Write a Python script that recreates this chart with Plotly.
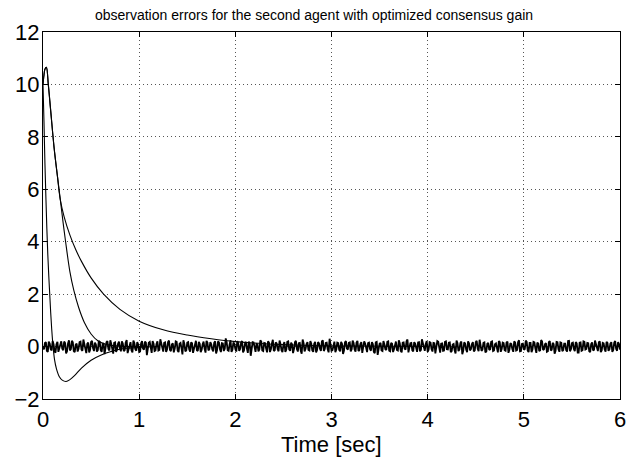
import numpy as np
import plotly.graph_objects as go

# ---------------- data ----------------
title_text = "observation errors for the second agent with optimized consensus gain"
x_label = "Time [sec]"
x_ticks = [0, 1, 2, 3, 4, 5, 6]
y_ticks = [-2, 0, 2, 4, 6, 8, 10, 12]

# noisy error, samples at even steps (0, 0.02, ... 6.00 s)
noise_t_a = np.round(np.arange(0, 6.0001, 0.02), 3)
noise_y_a = [
    0.00, 0.14, -0.16, 0.19, -0.10, 0.21, -0.18, 0.09, -0.20, 0.16, -0.08, 0.19, -0.26, 0.12, -0.15, 0.22, -0.17, 0.07, -0.19, 0.17,
    -0.12, 0.27, -0.15, 0.10, -0.22, 0.18, -0.06, 0.15, -0.19, 0.21, -0.13, 0.08, -0.29, 0.17, -0.09, 0.24, -0.16, 0.14, -0.20, 0.11,
    -0.07, 0.20, -0.17, 0.16, -0.25, 0.09, -0.14, 0.23, -0.10, 0.17, -0.21, 0.13, -0.08, 0.19, -0.33, 0.15, -0.12, 0.21, -0.17, 0.10,
    -0.15, 0.28, -0.09, 0.14, -0.20, 0.17, -0.13, 0.08, -0.22, 0.20, -0.16, 0.11, -0.06, 0.24, -0.18, 0.15, -0.10, 0.16, -0.24, 0.12,
    -0.14, 0.18, -0.21, 0.09, -0.08, 0.22, -0.15, 0.17, -0.11, 0.14, -0.26, 0.20, -0.10, 0.13, -0.17, 0.31, -0.14, 0.07, -0.20, 0.16,
    -0.09, 0.21, -0.16, 0.15, -0.22, 0.11, -0.07, 0.19, -0.35, 0.17, -0.13, 0.10, -0.18, 0.24, -0.15, 0.14, -0.08, 0.20, -0.21, 0.12,
    -0.17, 0.16, -0.10, 0.23, -0.14, 0.08, -0.20, 0.18, -0.11, 0.15, -0.25, 0.17, -0.09, 0.13, -0.16, 0.27, -0.18, 0.10, -0.13, 0.21,
    -0.15, 0.11, -0.22, 0.17, -0.08, 0.20, -0.17, 0.14, -0.10, 0.30, -0.16, 0.09, -0.21, 0.15, -0.13, 0.18, -0.28, 0.16, -0.07, 0.14,
    -0.18, 0.23, -0.11, 0.15, -0.17, 0.10, -0.24, 0.20, -0.14, 0.13, -0.09, 0.17, -0.20, 0.16, -0.32, 0.11, -0.15, 0.21, -0.10, 0.18,
    -0.16, 0.14, -0.21, 0.09, -0.13, 0.24, -0.17, 0.15, -0.08, 0.20, -0.22, 0.13, -0.14, 0.17, -0.10, 0.16, -0.18, 0.28, -0.11, 0.10,
    -0.20, 0.17, -0.09, 0.14, -0.26, 0.21, -0.13, 0.11, -0.16, 0.18, -0.10, 0.15, -0.21, 0.08, -0.14, 0.23, -0.17, 0.13, -0.29, 0.16,
    -0.11, 0.20, -0.15, 0.10, -0.18, 0.17, -0.08, 0.26, -0.16, 0.14, -0.22, 0.11, -0.13, 0.18, -0.17, 0.09, -0.10, 0.21, -0.20, 0.15,
    -0.14, 0.16, -0.24, 0.13, -0.09, 0.20, -0.15, 0.17, -0.18, 0.10, -0.12, 0.23, -0.16, 0.14, -0.21, 0.18, -0.08, 0.15, -0.17, 0.25,
    -0.13, 0.09, -0.20, 0.17, -0.15, 0.14, -0.27, 0.18, -0.10, 0.16, -0.17, 0.11, -0.14, 0.21, -0.18, 0.13, -0.09, 0.17, -0.23, 0.15,
    -0.16, 0.20, -0.11, 0.14, -0.18, 0.10, -0.15, 0.23, -0.13, 0.17, -0.21, 0.14, -0.10, 0.18, -0.16, 0.11, -0.20, 0.15, -0.09, 0.17,
    -0.12,
]
# noisy error, samples at odd steps (0.01, 0.03, ... 5.99 s)
noise_t_b = np.round(np.arange(0.01, 6.0, 0.02), 3)
noise_y_b = [
    -0.11, 0.17, -0.20, 0.12, -0.15, 0.09, -0.23, 0.18, -0.07, 0.20, -0.14, 0.13, -0.18, 0.24, -0.10, 0.16, -0.21, 0.11, -0.08, 0.19,
    -0.16, 0.10, -0.25, 0.15, -0.12, 0.22, -0.17, 0.08, -0.14, 0.18, -0.20, 0.13, -0.09, 0.21, -0.15, 0.10, -0.27, 0.16, -0.11, 0.19,
    -0.18, 0.12, -0.13, 0.25, -0.09, 0.17, -0.22, 0.14, -0.16, 0.08, -0.19, 0.21, -0.12, 0.15, -0.10, 0.18, -0.24, 0.11, -0.15, 0.20,
    -0.13, 0.09, -0.19, 0.16, -0.11, 0.23, -0.17, 0.12, -0.08, 0.18, -0.21, 0.14, -0.30, 0.10, -0.14, 0.17, -0.19, 0.13, -0.09, 0.22,
    -0.17, 0.11, -0.12, 0.19, -0.23, 0.15, -0.10, 0.09, -0.18, 0.20, -0.13, 0.16, -0.21, 0.12, -0.08, 0.17, -0.16, 0.24, -0.12, 0.10,
    -0.19, 0.14, -0.09, 0.21, -0.15, 0.18, -0.24, 0.11, -0.13, 0.16, -0.20, 0.09, -0.11, 0.19, -0.17, 0.13, -0.22, 0.15, -0.10, 0.26,
    -0.14, 0.12, -0.18, 0.10, -0.21, 0.17, -0.12, 0.20, -0.16, 0.09, -0.10, 0.22, -0.19, 0.14, -0.27, 0.13, -0.09, 0.17, -0.15, 0.11,
    -0.20, 0.18, -0.13, 0.12, -0.17, 0.24, -0.09, 0.15, -0.22, 0.11, -0.14, 0.19, -0.11, 0.13, -0.18, 0.10, -0.15, 0.21, -0.12, 0.16,
    -0.10, 0.14, -0.19, 0.22, -0.13, 0.17, -0.08, 0.12, -0.21, 0.15, -0.16, 0.10, -0.25, 0.18, -0.11, 0.14, -0.17, 0.09, -0.13, 0.20,
    -0.18, 0.11, -0.10, 0.19, -0.15, 0.13, -0.22, 0.16, -0.12, 0.27, -0.09, 0.14, -0.18, 0.11, -0.20, 0.17, -0.13, 0.10, -0.16, 0.21,
    -0.12, 0.15, -0.19, 0.13, -0.09, 0.18, -0.23, 0.12, -0.15, 0.20, -0.11, 0.16, -0.17, 0.10, -0.26, 0.14, -0.12, 0.19, -0.16, 0.11,
    -0.21, 0.13, -0.10, 0.17, -0.14, 0.22, -0.18, 0.09, -0.12, 0.16, -0.19, 0.14, -0.10, 0.20, -0.15, 0.12, -0.22, 0.17, -0.09, 0.13,
    -0.16, 0.19, -0.12, 0.10, -0.20, 0.15, -0.13, 0.24, -0.17, 0.11, -0.09, 0.18, -0.21, 0.14, -0.11, 0.16, -0.24, 0.12, -0.14, 0.19,
    -0.10, 0.13, -0.18, 0.21, -0.12, 0.09, -0.16, 0.17, -0.20, 0.14, -0.13, 0.11, -0.19, 0.22, -0.10, 0.15, -0.17, 0.12, -0.23, 0.16,
    -0.14, 0.18, -0.09, 0.13, -0.21, 0.16, -0.12, 0.10, -0.17, 0.20, -0.15, 0.12, -0.19, 0.14, -0.11, 0.17, -0.13, 0.21, -0.16, 0.10,
]

# fast error with undershoot
fast_t = [0, 0.01, 0.02, 0.03, 0.04, 0.05, 0.06, 0.07, 0.08, 0.09, 0.10, 0.12, 0.14, 0.17, 0.20,
          0.24, 0.28, 0.33, 0.40, 0.50, 0.60, 0.70, 0.80, 1.0, 1.2]
fast_y = [10.0, 8.6, 7.0, 5.7, 4.5, 3.5, 2.7, 2.0, 1.3, 0.7, 0.2, -0.5, -0.85, -1.15, -1.28,
          -1.33, -1.26, -1.1, -0.82, -0.52, -0.33, -0.2, -0.1, -0.03, 0.0]

# peaked error (medium decay)
mid_t = [0, 0.01, 0.02, 0.035, 0.055, 0.08, 0.115, 0.15, 0.18, 0.21, 0.235, 0.28, 0.32,
         0.37, 0.43, 0.50, 0.57, 0.65, 0.75, 0.90, 1.10]
mid_y = [10.0, 10.35, 10.58, 10.65, 10.0, 9.0, 7.6, 6.5, 5.6, 4.7, 4.0, 2.85, 2.15,
         1.5, 0.92, 0.48, 0.22, 0.09, 0.03, 0.0, 0.0]

# slow error
slow_t = [0, 0.01, 0.02, 0.035, 0.055, 0.08, 0.115, 0.15, 0.18, 0.22, 0.28, 0.34, 0.40,
          0.50, 0.63, 0.80, 1.00, 1.25, 1.50, 1.75, 2.00, 2.30, 2.70, 3.20, 4.00]
slow_y = [10.0, 10.35, 10.58, 10.65, 10.0, 9.0, 7.6, 6.5, 5.6, 4.95, 4.25, 3.7, 3.25,
          2.62, 2.0, 1.42, 0.97, 0.64, 0.44, 0.3, 0.19, 0.11, 0.05, 0.02, 0.0]

# ---------------- figure ----------------
FONT = "Liberation Sans, Arial, Helvetica, sans-serif"
line_style = dict(color="black", width=1.1)

# interleave the two noise sample sets into one time-ordered series
order = np.argsort(np.concatenate([noise_t_a, noise_t_b]), kind="stable")
noise_t = np.concatenate([noise_t_a, noise_t_b])[order]
noise_y = np.concatenate([noise_y_a, noise_y_b])[order]

fig = go.Figure()
fig.add_trace(go.Scatter(x=noise_t, y=noise_y, mode="lines", line=dict(color="black", width=1.8)))
fig.add_trace(go.Scatter(x=fast_t, y=fast_y, mode="lines", line=dict(line_style, shape="spline")))
fig.add_trace(go.Scatter(x=mid_t, y=mid_y, mode="lines", line=dict(line_style, shape="spline")))
fig.add_trace(go.Scatter(x=slow_t, y=slow_y, mode="lines", line=dict(line_style, shape="spline")))

axis_common = dict(
    showline=True, linecolor="black", linewidth=1, mirror="ticks",
    ticks="inside", ticklen=5, tickcolor="black", tickwidth=1,
    showgrid=True, gridcolor="#555555", griddash="1px,3px", gridwidth=1,
    zeroline=False, automargin=False,
    tickfont=dict(family=FONT, size=22, color="black"),
)

fig.update_layout(
    width=628, height=462,
    margin=dict(l=43, r=8, t=32, b=63),
    paper_bgcolor="white", plot_bgcolor="white",
    showlegend=False,
    font=dict(family=FONT, color="black"),
    title=dict(text=title_text, x=0.5, xref="container", xanchor="center",
               y=0.968, yref="container", yanchor="middle",
               font=dict(family=FONT, size=14, color="black")),
    xaxis=dict(axis_common, range=[0, 6], tickvals=x_ticks, ticklabelstandoff=1),
    yaxis=dict(axis_common, range=[-2, 12], tickvals=y_ticks, ticklabelstandoff=-2),
    annotations=[dict(text=x_label, xref="paper", yref="paper", x=0.5, y=-0.1253,
                      xanchor="center", yanchor="middle", showarrow=False,
                      font=dict(family=FONT, size=22, color="black"))],
)

fig.write_html("out.html")
